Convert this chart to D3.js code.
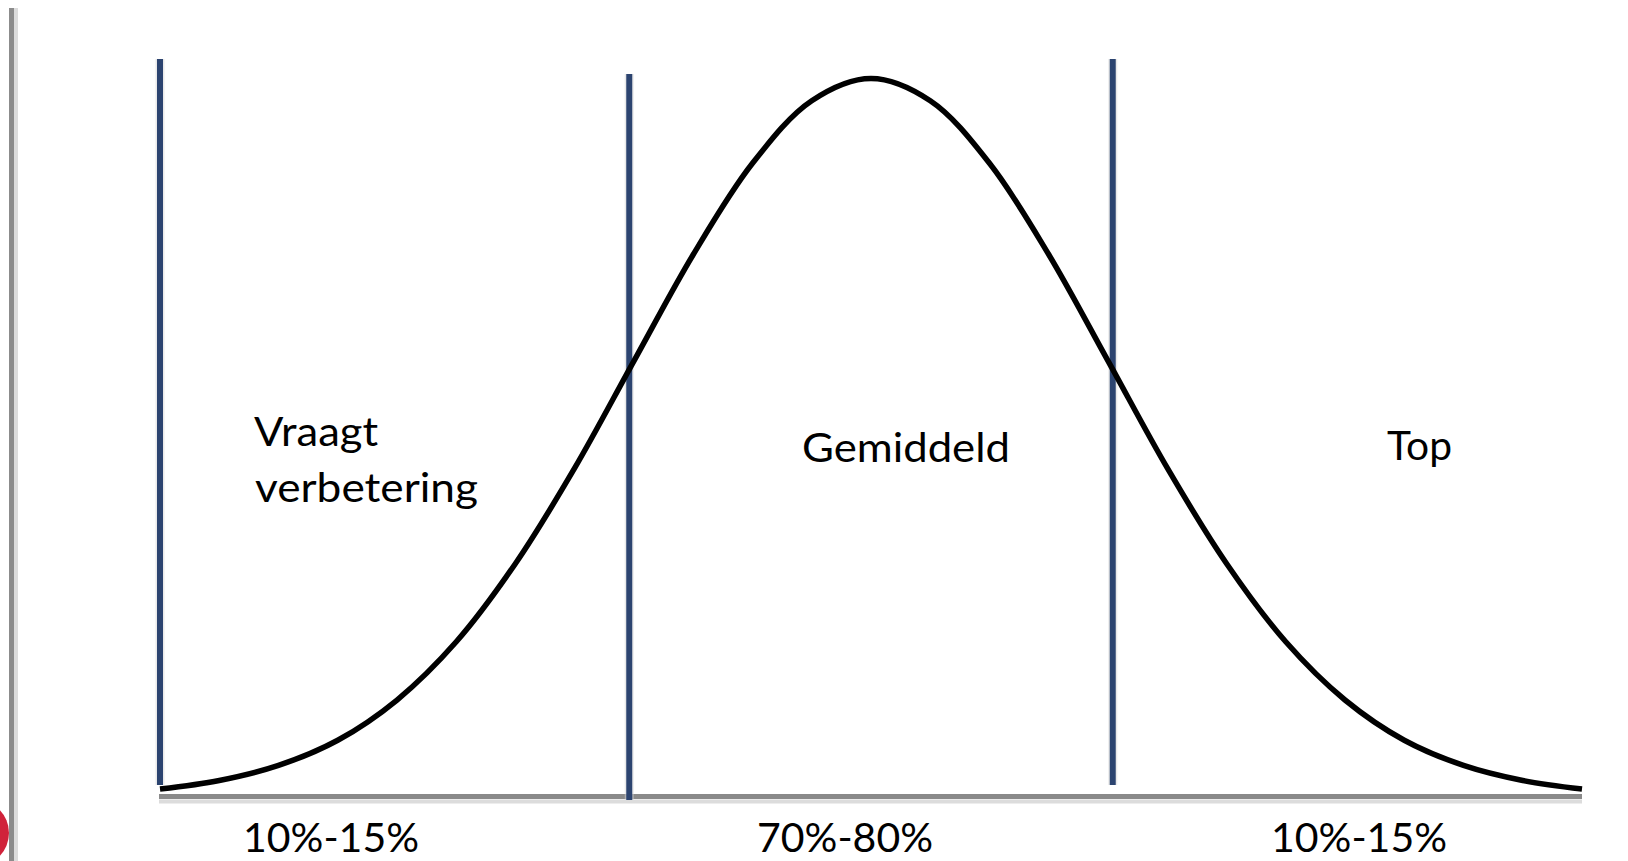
<!DOCTYPE html>
<html>
<head>
<meta charset="utf-8">
<script src="https://cdn.jsdelivr.net/npm/d3@7"></script>
<style>
  html, body { margin: 0; padding: 0; background: #ffffff; }
  svg { display: block; }
  text { font-family: Lato, "Open Sans", "Liberation Sans", sans-serif; fill: #000; }
</style>
</head>
<body>
<svg id="chart" width="1628" height="861"></svg>
<script>
// Curve: position in standard deviations, relative height (peak = 100)
const curveX = [-3, -2.75, -2.5, -2.25, -2, -1.75, -1.5, -1.25, -1, -0.75, -0.5, -0.25, 0,
                0.25, 0.5, 0.75, 1, 1.25, 1.5, 1.75, 2, 2.25, 2.5, 2.75, 3];
const curveY = [1.1, 2.3, 4.4, 7.9, 13.5, 21.6, 32.5, 45.8, 60.7, 75.5, 88.2, 96.9, 100,
                96.9, 88.2, 75.5, 60.7, 45.8, 32.5, 21.6, 13.5, 7.9, 4.4, 2.3, 1.1];
// Divider lines (in standard deviations)
const dividers = [-3, -1.02, 1.02];
// Segment labels
const segmentLabels = [["Vraagt", "verbetering"], ["Gemiddeld"], ["Top"]];
const percentLabels = ["10%-15%", "70%-80%", "10%-15%"];

const svg = d3.select("#chart");

const x = d3.scaleLinear().domain([-3, 3]).range([160, 1582]);
const y = d3.scaleLinear().domain([0, 100]).range([797, 78.5]);

// page-edge decoration on the left
svg.append("rect").attr("x", 9).attr("y", 8).attr("width", 5).attr("height", 853).attr("fill", "#8c8c8c");
svg.append("rect").attr("x", 14).attr("y", 8).attr("width", 4).attr("height", 853).attr("fill", "#dcdcdc");
svg.append("circle").attr("cx", -24).attr("cy", 833).attr("r", 33).attr("fill", "#d0223a");

// axis baseline
svg.append("line").attr("x1", x(-3) - 1).attr("x2", x(3)).attr("y1", 801.5).attr("y2", 801.5)
  .attr("stroke", "#dcdcdc").attr("stroke-width", 4);
svg.append("line").attr("x1", x(-3) - 1).attr("x2", x(3)).attr("y1", 796.5).attr("y2", 796.5)
  .attr("stroke", "#8a8a8a").attr("stroke-width", 5);

// vertical dividers
const divTop = [59, 74, 59];
const divBottom = [785, 800, 785];
dividers.forEach((d, i) => {
  svg.append("line")
    .attr("x1", x(d)).attr("x2", x(d))
    .attr("y1", divTop[i]).attr("y2", divBottom[i])
    .attr("stroke", "#d6d6d6").attr("stroke-width", 9).attr("opacity", 0.5);
  svg.append("line")
    .attr("x1", x(d)).attr("x2", x(d))
    .attr("y1", divTop[i]).attr("y2", divBottom[i])
    .attr("stroke", "#2c4470").attr("stroke-width", 6);
});

// bell curve
const pts = curveX.map((cx, i) => [cx, curveY[i]]);
const line = d3.line().x(d => x(d[0])).y(d => y(d[1])).curve(d3.curveCatmullRom.alpha(0.5));
svg.append("path").attr("d", line(pts))
  .attr("fill", "none").attr("stroke", "#000").attr("stroke-width", 5.5)
  .attr("stroke-linecap", "butt");

// segment labels
const fs = 40;
svg.append("text").attr("x", 254).attr("y", 446).attr("font-size", fs)
  .attr("textLength", 124).attr("lengthAdjust", "spacingAndGlyphs").text(segmentLabels[0][0]);
svg.append("text").attr("x", 255).attr("y", 502).attr("font-size", fs)
  .attr("textLength", 223).attr("lengthAdjust", "spacingAndGlyphs").text(segmentLabels[0][1]);
svg.append("text").attr("x", 802).attr("y", 462).attr("font-size", fs)
  .attr("textLength", 208).attr("lengthAdjust", "spacingAndGlyphs").text(segmentLabels[1][0]);
svg.append("text").attr("x", 1387).attr("y", 460).attr("font-size", fs)
  .attr("textLength", 65).attr("lengthAdjust", "spacingAndGlyphs").text(segmentLabels[2][0]);

// percentage labels
const pctX = [243, 757, 1271];
percentLabels.forEach((t, i) => {
  svg.append("text").attr("x", pctX[i]).attr("y", 852).attr("font-size", 40)
    .attr("textLength", 176).attr("lengthAdjust", "spacingAndGlyphs").text(t);
});
</script>
</body>
</html>
